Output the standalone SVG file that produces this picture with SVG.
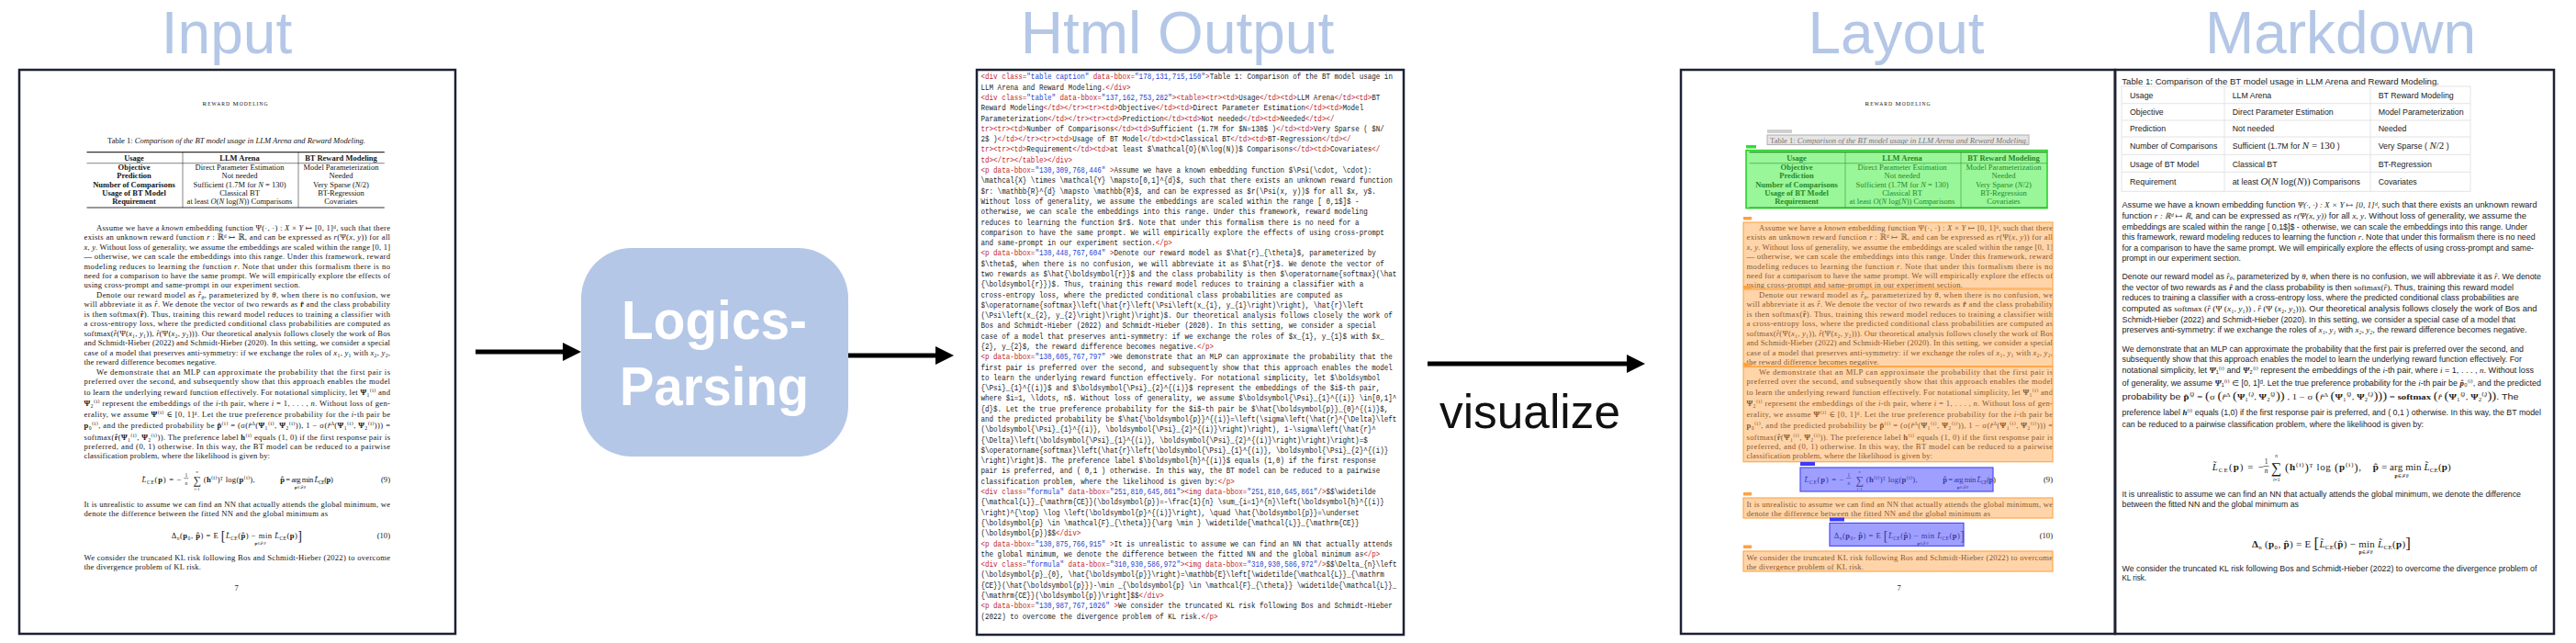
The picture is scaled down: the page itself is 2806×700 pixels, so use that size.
<svg xmlns="http://www.w3.org/2000/svg" xmlns:xlink="http://www.w3.org/1999/xlink" width="2806" height="700" viewBox="0 0 2806 700">
<style>
.title{font-family:"Liberation Sans",Arial,sans-serif;font-size:64px;fill:#b4c7e7;text-anchor:middle}
.page{fill:#fff;stroke:#1c2133;stroke-width:2.5}
.pp{font-family:"Liberation Serif","DejaVu Serif",serif;font-size:8.6px;fill:#151515}
.tb{font-family:"Liberation Serif","DejaVu Serif",serif;font-size:8.5px;fill:#151515;text-anchor:middle}
.sc{font-family:"Liberation Serif","DejaVu Serif",serif;font-size:7px;fill:#151515;text-anchor:middle}
.b{font-weight:bold}
.i{font-style:italic}
.sm{font-size:5.5px}
.code{font-family:"Liberation Mono","DejaVu Sans Mono",monospace;font-size:9px;fill:#1a1a1a}
.t{fill:#c0282d}
.v{fill:#1f3fd1}
.md{font-family:"Liberation Sans",Arial,"DejaVu Sans",sans-serif;font-size:8.8px;fill:#222}
.m{font-family:"Liberation Serif","DejaVu Serif",serif;font-style:italic}
.mf{font-family:"Liberation Serif","DejaVu Serif",serif;font-size:11px;fill:#222}
.lp{font-family:"Liberation Sans",Arial,sans-serif;font-weight:bold;font-size:59px;fill:#fff;text-anchor:middle}
.arrow{stroke:#000;stroke-width:5;fill:none}
.ovo{fill:#ffa040;fill-opacity:0.45;stroke:#ffa94d;stroke-width:1.2}
.ovg{fill:#33ee33;fill-opacity:0.5;stroke:#22cc22;stroke-width:1.5}
.ovb{fill:#5050ff;fill-opacity:0.55;stroke:#4d4dff;stroke-width:1.2}
.lo{fill:#ffa040}
.lb{fill:#3a3aff}
.grid{stroke:#e4e4e4;stroke-width:1;fill:none}
</style>
<defs>
<marker id="ah" markerUnits="userSpaceOnUse" markerWidth="20" markerHeight="20" refX="0" refY="10" orient="auto">
<path d="M0,0 L20,10 L0,20 z" fill="#000"/>
</marker>
<g id="paper">
<text class="sc" x="256" y="114.5" textLength="71">R<tspan font-size="5.6">EWARD </tspan>M<tspan font-size="5.6">ODELING</tspan></text>
<text class="pp" x="117" y="155.5" textLength="281">Table 1: <tspan class="i">Comparison of the BT model usage in LLM Arena and Reward Modeling.</tspan></text>
<path d="M94.5 165.6H418.8M94.5 226H418.8" stroke="#333" stroke-width="1.1"/>
<path d="M94.5 177.7H418.8M199 165.6V226M325 165.6V226" stroke="#333" stroke-width="0.6"/>
<g class="tb">
<text x="146" y="175.3" class="b">Usage</text><text x="261" y="175.3" class="b">LLM Arena</text><text x="371.5" y="175.3" class="b">BT Reward Modeling</text>
<text x="146" y="185.4" class="b">Objective</text><text x="261" y="185.4">Direct Parameter Estimation</text><text x="371.5" y="185.4">Model Parameterization</text>
<text x="146" y="194.3" class="b">Prediction</text><text x="261" y="194.3">Not needed</text><text x="371.5" y="194.3">Needed</text>
<text x="146" y="203.6" class="b">Number of Comparisons</text><text x="261" y="203.6">Sufficient (1.7M for <tspan class="i">N</tspan> = 130)</text><text x="371.5" y="203.6">Very Sparse (<tspan class="i">N</tspan>/2)</text>
<text x="146" y="212.8" class="b">Usage of BT Model</text><text x="261" y="212.8">Classical BT</text><text x="371.5" y="212.8">BT-Regression</text>
<text x="146" y="222" class="b">Requirement</text><text x="261" y="222">at least <tspan class="i">O</tspan>(<tspan class="i">N</tspan> log(<tspan class="i">N</tspan>)) Comparisons</text><text x="371.5" y="222">Covariates</text>
</g>
<g class="pp">
<text x="105" y="250.7" textLength="320">Assume we have a <tspan class="i">known</tspan> embedding function Ψ(·, ·) : <tspan class="i">X</tspan> × <tspan class="i">Y</tspan> ↦ [0, 1]ᵈ, such that there</text>
<text x="91.5" y="261.1" textLength="333.5">exists an unknown reward function <tspan class="i">r</tspan> : ℝᵈ ↦ ℝ, and can be expressed as <tspan class="i">r</tspan>(Ψ(<tspan class="i">x</tspan>, <tspan class="i">y</tspan>)) for all</text>
<text x="91.5" y="271.6" textLength="333.5"><tspan class="i">x</tspan>, <tspan class="i">y</tspan>. Without loss of generality, we assume the embeddings are scaled within the range [0, 1]</text>
<text x="91.5" y="282" textLength="333.5">— otherwise, we can scale the embeddings into this range. Under this framework, reward</text>
<text x="91.5" y="292.5" textLength="333.5">modeling reduces to learning the function <tspan class="i">r</tspan>. Note that under this formalism there is no</text>
<text x="91.5" y="302.9" textLength="333.5">need for a comparison to have the same prompt. We will empirically explore the effects of</text>
<text x="91.5" y="313.4" textLength="235.5">using cross-prompt and same-prompt in our experiment section.</text>
<text x="105" y="324.2" textLength="320">Denote our reward model as <tspan class="i">r̂</tspan><tspan class="sm i" dy="1.5">θ</tspan><tspan dy="-1.5">, parameterized by </tspan><tspan class="i">θ</tspan>, when there is no confusion, we</text>
<text x="91.5" y="334.3" textLength="333.5">will abbreviate it as <tspan class="i">r̂</tspan>. We denote the vector of two rewards as <tspan class="b">r̂</tspan> and the class probability</text>
<text x="91.5" y="344.7" textLength="333.5">is then softmax(<tspan class="b">r̂</tspan>). Thus, training this reward model reduces to training a classifier with</text>
<text x="91.5" y="355.1" textLength="333.5">a cross-entropy loss, where the predicted conditional class probabilities are computed as</text>
<text x="91.5" y="365.6" textLength="333.5">softmax(<tspan class="i">r̂</tspan>(Ψ(<tspan class="i">x</tspan>₁, <tspan class="i">y</tspan>₁)), <tspan class="i">r̂</tspan>(Ψ(<tspan class="i">x</tspan>₂, <tspan class="i">y</tspan>₂))). Our theoretical analysis follows closely the work of Bos</text>
<text x="91.5" y="376" textLength="333.5">and Schmidt-Hieber (2022) and Schmidt-Hieber (2020). In this setting, we consider a special</text>
<text x="91.5" y="386.5" textLength="333.5">case of a model that preserves anti-symmetry: if we exchange the roles of <tspan class="i">x</tspan>₁, <tspan class="i">y</tspan>₁ with <tspan class="i">x</tspan>₂, <tspan class="i">y</tspan>₂,</text>
<text x="91.5" y="396.9" textLength="144.5">the reward difference becomes negative.</text>
<text x="105" y="407.7" textLength="320">We demonstrate that an MLP can approximate the probability that the first pair is</text>
<text x="91.5" y="418.2" textLength="333.5">preferred over the second, and subsequently show that this approach enables the model</text>
<text x="91.5" y="429.5" textLength="333.5">to learn the underlying reward function effectively. For notational simplicity, let <tspan class="b">Ψ</tspan>₁⁽ⁱ⁾ and</text>
<text x="91.5" y="441.5" textLength="333.5"><tspan class="b">Ψ</tspan>₂⁽ⁱ⁾ represent the embeddings of the <tspan class="i">i</tspan>-th pair, where <tspan class="i">i</tspan> = 1, . . . , <tspan class="i">n</tspan>. Without loss of gen-</text>
<text x="91.5" y="454.4" textLength="333.5">erality, we assume <tspan class="b">Ψ</tspan>⁽ⁱ⁾ ∈ [0, 1]ᵈ. Let the true preference probability for the <tspan class="i">i</tspan>-th pair be</text>
<text x="91.5" y="466.4" textLength="333.5"><tspan class="b">p</tspan>₀⁽ⁱ⁾, and the predicted probability be <tspan class="b">p̂</tspan>⁽ⁱ⁾ = (σ(<tspan class="i">r̂</tspan><tspan class="sm" dy="-3">Δ</tspan><tspan dy="3">(</tspan><tspan class="b">Ψ</tspan>₁⁽ⁱ⁾, <tspan class="b">Ψ</tspan>₂⁽ⁱ⁾)), 1 − σ(<tspan class="i">r̂</tspan><tspan class="sm" dy="-3">Δ</tspan><tspan dy="3">(</tspan><tspan class="b">Ψ</tspan>₁⁽ⁱ⁾, <tspan class="b">Ψ</tspan>₂⁽ⁱ⁾))) =</text>
<text x="91.5" y="478.5" textLength="333.5">softmax(<tspan class="b">r̂</tspan>(<tspan class="b">Ψ</tspan>₁⁽ⁱ⁾, <tspan class="b">Ψ</tspan>₂⁽ⁱ⁾)). The preference label <tspan class="b">h</tspan>⁽ⁱ⁾ equals (1, 0) if the first response pair is</text>
<text x="91.5" y="488.9" textLength="333.5">preferred, and (0, 1) otherwise. In this way, the BT model can be reduced to a pairwise</text>
<text x="91.5" y="499.4" textLength="202.5">classification problem, where the likelihood is given by:</text>
<text x="154.5" y="525" textLength="43"><tspan class="i">L̃</tspan><tspan class="sm" dy="1.5">CE</tspan><tspan dy="-1.5">(</tspan><tspan class="b">p</tspan>) = −</text>
<text x="202.8" y="518.5" class="sm" text-anchor="middle">1</text>
<path d="M200.3 520.5H205.3" stroke="#222" stroke-width="0.5"/>
<text x="202.8" y="528" class="sm i" text-anchor="middle">n</text>
<text x="214.5" y="526.5" font-size="12" text-anchor="middle">∑</text>
<text x="214.5" y="514.5" font-size="4.5" text-anchor="middle" class="i">n</text>
<text x="214.5" y="533.5" font-size="4.5" text-anchor="middle"><tspan class="i">i</tspan>=1</text>
<text x="221.8" y="525" textLength="55.8">(<tspan class="b">h</tspan>⁽ⁱ⁾)ᵀ log(<tspan class="b">p</tspan>⁽ⁱ⁾),</text>
<text x="304.8" y="525" textLength="57.6"><tspan class="b">p̂</tspan> = arg min <tspan class="i">L̃</tspan><tspan class="sm" dy="1.5">CE</tspan><tspan dy="-1.5">(</tspan><tspan class="b">p</tspan>)</text>
<text x="327" y="531.5" font-size="4.5" text-anchor="middle"><tspan class="b">p</tspan>∈ℱ<tspan class="i">θ</tspan></text>
<text x="425" y="525" text-anchor="end">(9)</text>
<text x="91.5" y="551.7" textLength="333.5">It is unrealistic to assume we can find an NN that actually attends the global minimum, we</text>
<text x="91.5" y="562.1" textLength="265.5">denote the difference between the fitted NN and the global minimum as</text>
<text x="186.7" y="586" textLength="142.3">Δ<tspan class="sm i" dy="1.5">n</tspan><tspan dy="-1.5">(</tspan><tspan class="b">p</tspan>₀, <tspan class="b">p̂</tspan>) = E <tspan font-size="14" dy="1.5">[</tspan><tspan dy="-1.5" class="i">L̃</tspan><tspan class="sm" dy="1.5">CE</tspan><tspan dy="-1.5">(</tspan><tspan class="b">p̂</tspan>) − min <tspan class="i">L̃</tspan><tspan class="sm" dy="1.5">CE</tspan><tspan dy="-1.5">(</tspan><tspan class="b">p</tspan>)<tspan font-size="14" dy="1.5">]</tspan></text>
<text x="283.5" y="592.5" font-size="4.5" text-anchor="middle"><tspan class="b">p</tspan>∈ℱ<tspan class="i">θ</tspan></text>
<text x="425" y="586" text-anchor="end">(10)</text>
<text x="91.5" y="609.7" textLength="333.5">We consider the truncated KL risk following Bos and Schmidt-Hieber (2022) to overcome</text>
<text x="91.5" y="620.3" textLength="127.5">the divergence problem of KL risk.</text>
<text x="257.6" y="643" text-anchor="middle">7</text>
</g>
</g>
</defs>

<rect width="2806" height="700" fill="#fff"/>

<g id="titles">
<text class="title" x="247" y="58">Input</text>
<text class="title" x="1282.5" y="58">Html Output</text>
<text class="title" x="2065.5" y="58">Layout</text>
<text class="title" x="2549.5" y="58">Markdown</text>
</g>

<g id="input">
<rect class="page" x="21" y="76" width="475" height="614"/>
<use xlink:href="#paper" href="#paper"/>
</g>

<g id="logics-parsing">
<rect x="633" y="270" width="291" height="227" rx="55" ry="55" fill="#b4c7e7"/>
<text class="lp" x="778" y="369" textLength="202" lengthAdjust="spacingAndGlyphs">Logics-</text>
<text class="lp" x="778" y="441" textLength="206" lengthAdjust="spacingAndGlyphs">Parsing</text>
</g>

<g id="html-output">
<rect class="page" x="1064" y="76" width="465" height="615"/>
<g class="code" transform="translate(1068.5 0) scale(0.84 1)">
<text x="0" y="86.5"><tspan class="t">&lt;div class=</tspan><tspan class="v">"table caption"</tspan><tspan class="t"> data-bbox=</tspan><tspan class="v">"178,131,715,150"</tspan><tspan class="t">&gt;</tspan>Table 1: Comparison of the BT model usage in</text>
<text x="0" y="97.8">LLM Arena and Reward Modeling.<tspan class="t">&lt;/div&gt;</tspan></text>
<text x="0" y="109.1"><tspan class="t">&lt;div class=</tspan><tspan class="v">"table"</tspan><tspan class="t"> data-bbox=</tspan><tspan class="v">"137,162,753,282"</tspan><tspan class="t">&gt;&lt;table&gt;&lt;tr&gt;&lt;td&gt;</tspan>Usage<tspan class="t">&lt;/td&gt;&lt;td&gt;</tspan>LLM Arena<tspan class="t">&lt;/td&gt;&lt;td&gt;</tspan>BT</text>
<text x="0" y="120.4">Reward Modeling<tspan class="t">&lt;/td&gt;&lt;/tr&gt;&lt;tr&gt;&lt;td&gt;</tspan>Objective<tspan class="t">&lt;/td&gt;&lt;td&gt;</tspan>Direct Parameter Estimation<tspan class="t">&lt;/td&gt;&lt;td&gt;</tspan>Model</text>
<text x="0" y="131.7">Parameterization<tspan class="t">&lt;/td&gt;&lt;/tr&gt;&lt;tr&gt;&lt;td&gt;</tspan>Prediction<tspan class="t">&lt;/td&gt;&lt;td&gt;</tspan>Not needed<tspan class="t">&lt;/td&gt;&lt;td&gt;</tspan>Needed<tspan class="t">&lt;/td&gt;&lt;/</tspan></text>
<text x="0" y="142.9"><tspan class="t">tr&gt;&lt;tr&gt;&lt;td&gt;</tspan>Number of Comparisons<tspan class="t">&lt;/td&gt;&lt;td&gt;</tspan>Sufficient (1.7M for $N=130$ )<tspan class="t">&lt;/td&gt;&lt;td&gt;</tspan>Very Sparse ( $N/</text>
<text x="0" y="154.2">2$ )<tspan class="t">&lt;/td&gt;&lt;/tr&gt;&lt;tr&gt;&lt;td&gt;</tspan>Usage of BT Model<tspan class="t">&lt;/td&gt;&lt;td&gt;</tspan>Classical BT<tspan class="t">&lt;/td&gt;&lt;td&gt;</tspan>BT-Regression<tspan class="t">&lt;/td&gt;&lt;/</tspan></text>
<text x="0" y="165.5"><tspan class="t">tr&gt;&lt;tr&gt;&lt;td&gt;</tspan>Requirement<tspan class="t">&lt;/td&gt;&lt;td&gt;</tspan>at least $\mathcal{O}(N\log(N))$ Comparisons<tspan class="t">&lt;/td&gt;&lt;td&gt;</tspan>Covariates<tspan class="t">&lt;/</tspan></text>
<text x="0" y="176.8"><tspan class="t">td&gt;&lt;/tr&gt;&lt;/table&gt;&lt;/div&gt;</tspan></text>
<text x="0" y="188.1"><tspan class="t">&lt;p data-bbox=</tspan><tspan class="v">"130,309,768,446"</tspan><tspan class="t"> &gt;</tspan>Assume we have a known embedding function $\Psi(\cdot, \cdot):</text>
<text x="0" y="199.4">\mathcal{X} \times \mathcal{Y} \mapsto[0,1]^{d}$, such that there exists an unknown reward function</text>
<text x="0" y="210.7">$r: \mathbb{R}^{d} \mapsto \mathbb{R}$, and can be expressed as $r(\Psi(x, y))$ for all $x, y$.</text>
<text x="0" y="222">Without loss of generality, we assume the embeddings are scaled within the range [ 0,1$]$ -</text>
<text x="0" y="233.3">otherwise, we can scale the embeddings into this range. Under this framework, reward modeling</text>
<text x="0" y="244.6">reduces to learning the function $r$. Note that under this formalism there is no need for a</text>
<text x="0" y="255.9">comparison to have the same prompt. We will empirically explore the effects of using cross-prompt</text>
<text x="0" y="267.1">and same-prompt in our experiment section.<tspan class="t">&lt;/p&gt;</tspan></text>
<text x="0" y="278.4"><tspan class="t">&lt;p data-bbox=</tspan><tspan class="v">"130,448,767,604"</tspan><tspan class="t"> &gt;</tspan>Denote our reward model as $\hat{r}_{\theta}$, parameterized by</text>
<text x="0" y="289.7">$\theta$, when there is no confusion, we will abbreviate it as $\hat{r}$. We denote the vector of</text>
<text x="0" y="301">two rewards as $\hat{\boldsymbol{r}}$ and the class probability is then $\operatorname{softmax}(\hat</text>
<text x="0" y="312.3">{\boldsymbol{r}})$. Thus, training this reward model reduces to training a classifier with a</text>
<text x="0" y="323.6">cross-entropy loss, where the predicted conditional class probabilities are computed as</text>
<text x="0" y="334.9">$\operatorname{softmax}\left(\hat{r}\left(\Psi\left(x_{1}, y_{1}\right)\right), \hat{r}\left</text>
<text x="0" y="346.2">(\Psi\left(x_{2}, y_{2}\right)\right)\right)$. Our theoretical analysis follows closely the work of</text>
<text x="0" y="357.5">Bos and Schmidt-Hieber (2022) and Schmidt-Hieber (2020). In this setting, we consider a special</text>
<text x="0" y="368.8">case of a model that preserves anti-symmetry: if we exchange the roles of $x_{1}, y_{1}$ with $x_</text>
<text x="0" y="380">{2}, y_{2}$, the reward difference becomes negative.<tspan class="t">&lt;/p&gt;</tspan></text>
<text x="0" y="391.3"><tspan class="t">&lt;p data-bbox=</tspan><tspan class="v">"130,605,767,797"</tspan><tspan class="t"> &gt;</tspan>We demonstrate that an MLP can approximate the probability that the</text>
<text x="0" y="402.6">first pair is preferred over the second, and subsequently show that this approach enables the model</text>
<text x="0" y="413.9">to learn the underlying reward function effectively. For notational simplicity, let $\boldsymbol</text>
<text x="0" y="425.2">{\Psi}_{1}^{(i)}$ and $\boldsymbol{\Psi}_{2}^{(i)}$ represent the embeddings of the $i$-th pair,</text>
<text x="0" y="436.5">where $i=1, \ldots, n$. Without loss of generality, we assume $\boldsymbol{\Psi}_{1}^{(i)} \in[0,1]^</text>
<text x="0" y="447.8">{d}$. Let the true preference probability for the $i$-th pair be $\hat{\boldsymbol{p}}_{0}^{(i)}$,</text>
<text x="0" y="459.1">and the predicted probability be $\hat{\boldsymbol{p}}^{(i)}=\left(\sigma\left(\hat{r}^{\Delta}\left</text>
<text x="0" y="470.4">(\boldsymbol{\Psi}_{1}^{(i)}, \boldsymbol{\Psi}_{2}^{(i)}\right)\right), 1-\sigma\left(\hat{r}^</text>
<text x="0" y="481.7">{\Delta}\left(\boldsymbol{\Psi}_{1}^{(i)}, \boldsymbol{\Psi}_{2}^{(i)}\right)\right)\right)=$</text>
<text x="0" y="493">$\operatorname{softmax}\left(\hat{r}\left(\boldsymbol{\Psi}_{1}^{(i)}, \boldsymbol{\Psi}_{2}^{(i)}</text>
<text x="0" y="504.2">\right)\right)$. The preference label $\boldsymbol{h}^{(i)}$ equals (1,0) if the first response</text>
<text x="0" y="515.5">pair is preferred, and ( 0,1 ) otherwise. In this way, the BT model can be reduced to a pairwise</text>
<text x="0" y="526.8">classification problem, where the likelihood is given by:<tspan class="t">&lt;/p&gt;</tspan></text>
<text x="0" y="538.1"><tspan class="t">&lt;div class=</tspan><tspan class="v">"formula"</tspan><tspan class="t"> data-bbox=</tspan><tspan class="v">"251,810,645,861"</tspan><tspan class="t">&gt;&lt;img data-bbox=</tspan><tspan class="v">"251,810,645,861"</tspan><tspan class="t">/&gt;</tspan>$$\widetilde</text>
<text x="0" y="549.4">{\mathcal{L}}_{\mathrm{CE}}(\boldsymbol{p})=-\frac{1}{n} \sum_{i=1}^{n}\left(\boldsymbol{h}^{(i)}</text>
<text x="0" y="560.7">\right)^{\top} \log \left(\boldsymbol{p}^{(i)}\right), \quad \hat{\boldsymbol{p}}=\underset</text>
<text x="0" y="572">{\boldsymbol{p} \in \mathcal{F}_{\theta}}{\arg \min } \widetilde{\mathcal{L}}_{\mathrm{CE}}</text>
<text x="0" y="583.3">(\boldsymbol{p})$$<tspan class="t">&lt;/div&gt;</tspan></text>
<text x="0" y="594.6"><tspan class="t">&lt;p data-bbox=</tspan><tspan class="v">"130,875,766,915"</tspan><tspan class="t"> &gt;</tspan>It is unrealistic to assume we can find an NN that actually attends</text>
<text x="0" y="605.9">the global minimum, we denote the difference between the fitted NN and the global minimum as<tspan class="t">&lt;/p&gt;</tspan></text>
<text x="0" y="617.1"><tspan class="t">&lt;div class=</tspan><tspan class="v">"formula"</tspan><tspan class="t"> data-bbox=</tspan><tspan class="v">"310,930,586,972"</tspan><tspan class="t">&gt;&lt;img data-bbox=</tspan><tspan class="v">"310,930,586,972"</tspan><tspan class="t">/&gt;</tspan>$$\Delta_{n}\left</text>
<text x="0" y="628.4">(\boldsymbol{p}_{0}, \hat{\boldsymbol{p}}\right)=\mathbb{E}\left[\widetilde{\mathcal{L}}_{\mathrm</text>
<text x="0" y="639.7">{CE}}(\hat{\boldsymbol{p}})-\min _{\boldsymbol{p} \in \mathcal{F}_{\theta}} \widetilde{\mathcal{L}}_</text>
<text x="0" y="651">{\mathrm{CE}}(\boldsymbol{p})\right]$$<tspan class="t">&lt;/div&gt;</tspan></text>
<text x="0" y="662.3"><tspan class="t">&lt;p data-bbox=</tspan><tspan class="v">"130,987,767,1026"</tspan><tspan class="t"> &gt;</tspan>We consider the truncated KL risk following Bos and Schmidt-Hieber</text>
<text x="0" y="673.6">(2022) to overcome the divergence problem of KL risk.<tspan class="t">&lt;/p&gt;</tspan></text>
</g>
</g>

<g id="layout">
<rect class="page" x="1831" y="76" width="473" height="614"/>
<use xlink:href="#paper" href="#paper" x="1811"/>
<rect x="1925" y="141" width="27" height="4" fill="#cfcfcf"/>
<rect x="1925" y="147" width="285" height="10.5" fill="#cccccc" fill-opacity="0.5" stroke="#b0b0b0" stroke-width="1"/>
<rect x="1902" y="158" width="11" height="3.5" fill="#33dd33"/>
<rect class="ovg" x="1902" y="163.6" width="328" height="63"/>
<rect class="lo" x="1899" y="236" width="9" height="3.5"/>
<rect class="ovo" x="1899" y="242" width="337" height="72"/>
<rect class="ovo" x="1899" y="315" width="337" height="83.6"/>
<rect class="lo" x="1899" y="311" width="9" height="3.5"/>
<rect class="ovo" x="1899" y="399.5" width="337" height="103.2"/>
<rect class="lo" x="1899" y="395" width="9" height="3.5"/>
<rect class="lb" x="1961" y="503" width="16" height="4"/>
<rect class="ovb" x="1961" y="509" width="210" height="26"/>
<rect class="lo" x="1899" y="536" width="9" height="3.5"/>
<rect class="ovo" x="1899" y="542" width="337" height="22"/>
<rect class="lb" x="1993" y="563.5" width="16" height="4"/>
<rect class="ovb" x="1993" y="569.4" width="146" height="25"/>
<rect class="lo" x="1899" y="593.5" width="9" height="3.5"/>
<rect class="ovo" x="1899" y="600" width="337" height="22"/>
</g>

<g id="markdown">
<rect class="page" x="2304" y="76" width="478" height="614"/>
<text class="md" x="2311.3" y="92.3" textLength="345.7" lengthAdjust="spacingAndGlyphs">Table 1: Comparison of the BT model usage in LLM Arena and Reward Modeling.</text>
<rect class="grid" x="2311" y="94" width="380" height="114.3"/>
<path class="grid" d="M2311 112.7H2691M2311 131H2691M2311 149H2691M2311 168.3H2691M2311 187.3H2691M2423 94V208.3M2582 94V208.3"/>
<g class="md">
<text x="2320" y="107">Usage</text><text x="2431.7" y="107">LLM Arena</text><text x="2590.7" y="107">BT Reward Modeling</text>
<text x="2320" y="125">Objective</text><text x="2431.7" y="125">Direct Parameter Estimation</text><text x="2590.7" y="125">Model Parameterization</text>
<text x="2320" y="143.3">Prediction</text><text x="2431.7" y="143.3">Not needed</text><text x="2590.7" y="143.3">Needed</text>
<text x="2320" y="162">Number of Comparisons</text><text x="2431.7" y="162">Sufficient (1.7M for <tspan class="m" font-size="11">N</tspan><tspan font-family="Liberation Serif" font-size="11"> = 130</tspan> )</text><text x="2590.7" y="162">Very Sparse ( <tspan class="m" font-size="11">N</tspan><tspan font-family="Liberation Serif" font-size="11">/2</tspan> )</text>
<text x="2320" y="181.7">Usage of BT Model</text><text x="2431.7" y="181.7">Classical BT</text><text x="2590.7" y="181.7">BT-Regression</text>
<text x="2320" y="201">Requirement</text><text x="2431.7" y="201">at least <tspan class="m" font-size="11">O</tspan><tspan font-family="Liberation Serif" font-size="11">(<tspan font-style="italic">N</tspan> log(<tspan font-style="italic">N</tspan>))</tspan> Comparisons</text><text x="2590.7" y="201">Covariates</text>

<text x="2311.5" y="226" textLength="452" lengthAdjust="spacingAndGlyphs">Assume we have a known embedding function <tspan class="m">Ψ(·, ·) : X × Y ↦ [0, 1]ᵈ</tspan>, such that there exists an unknown reward</text>
<text x="2311.5" y="237.7" textLength="440.5" lengthAdjust="spacingAndGlyphs">function <tspan class="m">r : ℝᵈ ↦ ℝ</tspan>, and can be expressed as <tspan class="m">r(Ψ(x, y))</tspan> for all <tspan class="m">x, y</tspan>. Without loss of generality, we assume the</text>
<text x="2311.5" y="249.8" textLength="441.5" lengthAdjust="spacingAndGlyphs">embeddings are scaled within the range [ 0,1$]$ - otherwise, we can scale the embeddings into this range. Under</text>
<text x="2311.5" y="261" textLength="450.2" lengthAdjust="spacingAndGlyphs">this framework, reward modeling reduces to learning the function <tspan class="m">r</tspan>. Note that under this formalism there is no need</text>
<text x="2311.5" y="272.7" textLength="448.5" lengthAdjust="spacingAndGlyphs">for a comparison to have the same prompt. We will empirically explore the effects of using cross-prompt and same-</text>
<text x="2311.5" y="284" textLength="129.5" lengthAdjust="spacingAndGlyphs">prompt in our experiment section.</text>

<text x="2311.5" y="303.6" textLength="456.5" lengthAdjust="spacingAndGlyphs">Denote our reward model as <tspan class="m">r̂</tspan><tspan class="m" font-size="6" dy="1.5">θ</tspan><tspan dy="-1.5">, parameterized by </tspan><tspan class="m">θ</tspan>, when there is no confusion, we will abbreviate it as <tspan class="m">r̂</tspan>. We denote</text>
<text x="2311.5" y="315.7" textLength="426.5" lengthAdjust="spacingAndGlyphs">the vector of two rewards as <tspan class="m" font-weight="bold">r̂</tspan> and the class probability is then <tspan font-family="Liberation Serif">softmax(<tspan font-style="italic">r̂</tspan>)</tspan>. Thus, training this reward model</text>
<text x="2311.5" y="327.3" textLength="432.5" lengthAdjust="spacingAndGlyphs">reduces to training a classifier with a cross-entropy loss, where the predicted conditional class probabilities are</text>
<text x="2311.5" y="338.6" textLength="452" lengthAdjust="spacingAndGlyphs">computed as <tspan font-family="Liberation Serif">softmax (<tspan font-style="italic">r̂</tspan> (Ψ (<tspan font-style="italic">x</tspan>₁, <tspan font-style="italic">y</tspan>₁)) , <tspan font-style="italic">r̂</tspan> (Ψ (<tspan font-style="italic">x</tspan>₂, <tspan font-style="italic">y</tspan>₂)))</tspan>. Our theoretical analysis follows closely the work of Bos and</text>
<text x="2311.5" y="351" textLength="428.5" lengthAdjust="spacingAndGlyphs">Schmidt-Hieber (2022) and Schmidt-Hieber (2020). In this setting, we consider a special case of a model that</text>
<text x="2311.5" y="362.3" textLength="441.1" lengthAdjust="spacingAndGlyphs">preserves anti-symmetry: if we exchange the roles of <tspan class="m">x₁, y₁</tspan> with <tspan class="m">x₂, y₂</tspan>, the reward difference becomes negative.</text>

<text x="2311.5" y="382.8" textLength="437.5" lengthAdjust="spacingAndGlyphs">We demonstrate that an MLP can approximate the probability that the first pair is preferred over the second, and</text>
<text x="2311.5" y="393.6" textLength="435.5" lengthAdjust="spacingAndGlyphs">subsequently show that this approach enables the model to learn the underlying reward function effectively. For</text>
<text x="2311.5" y="405.7" textLength="448.5" lengthAdjust="spacingAndGlyphs">notational simplicity, let <tspan class="m" font-weight="bold">Ψ</tspan>₁⁽ⁱ⁾ and <tspan class="m" font-weight="bold">Ψ</tspan>₂⁽ⁱ⁾ represent the embeddings of the <tspan class="m">i</tspan>-th pair, where <tspan class="m">i</tspan> = 1, . . . , <tspan class="m">n</tspan>. Without loss</text>
<text x="2311.5" y="420" textLength="456.5" lengthAdjust="spacingAndGlyphs">of generality, we assume <tspan class="m" font-weight="bold">Ψ</tspan>₁⁽ⁱ⁾ ∈ [0, 1]ᵈ. Let the true preference probability for the <tspan class="m">i</tspan>-th pair be <tspan class="m" font-weight="bold">p̂</tspan>₀⁽ⁱ⁾, and the predicted</text>
<text x="2311.5" y="435.4" textLength="432.1" lengthAdjust="spacingAndGlyphs">probability be <tspan font-family="Liberation Serif"><tspan font-weight="bold">p̂</tspan>⁽ⁱ⁾ = <tspan font-size="12">(</tspan>σ <tspan font-size="12">(</tspan><tspan font-style="italic">r̂</tspan><tspan font-size="6" dy="-3">Δ</tspan><tspan dy="3"> </tspan><tspan font-size="12">(</tspan><tspan font-weight="bold">Ψ</tspan>₁⁽ⁱ⁾, <tspan font-weight="bold">Ψ</tspan>₂⁽ⁱ⁾<tspan font-size="12">))</tspan> , 1 − σ <tspan font-size="12">(</tspan><tspan font-style="italic">r̂</tspan><tspan font-size="6" dy="-3">Δ</tspan><tspan dy="3"> </tspan><tspan font-size="12">(</tspan><tspan font-weight="bold">Ψ</tspan>₁⁽ⁱ⁾, <tspan font-weight="bold">Ψ</tspan>₂⁽ⁱ⁾<tspan font-size="12">)))</tspan> = <tspan font-weight="bold">softmax</tspan> <tspan font-size="12">(</tspan><tspan font-style="italic">r̂</tspan> <tspan font-size="12">(</tspan><tspan font-weight="bold">Ψ</tspan>₁⁽ⁱ⁾, <tspan font-weight="bold">Ψ</tspan>₂⁽ⁱ⁾<tspan font-size="12">))</tspan></tspan>. The</text>
<text x="2311.5" y="451.9" textLength="456.5" lengthAdjust="spacingAndGlyphs">preference label <tspan class="m" font-weight="bold">h</tspan>⁽ⁱ⁾ equals (1,0) if the first response pair is preferred, and ( 0,1 ) otherwise. In this way, the BT model</text>
<text x="2311.5" y="464.7" textLength="328.5" lengthAdjust="spacingAndGlyphs">can be reduced to a pairwise classification problem, where the likelihood is given by:</text>

<text x="2311.5" y="541" textLength="434.5" lengthAdjust="spacingAndGlyphs">It is unrealistic to assume we can find an NN that actually attends the global minimum, we denote the difference</text>
<text x="2311.5" y="551.5" textLength="192.5" lengthAdjust="spacingAndGlyphs">between the fitted NN and the global minimum as</text>
<text x="2311.5" y="621.8" textLength="452" lengthAdjust="spacingAndGlyphs">We consider the truncated KL risk following Bos and Schmidt-Hieber (2022) to overcome the divergence problem of</text>
<text x="2311.5" y="632.3" textLength="26.5" lengthAdjust="spacingAndGlyphs">KL risk.</text>
</g>
<g class="mf">
<text x="2409.7" y="512" textLength="55.9"><tspan font-style="italic">L̃</tspan><tspan font-size="7" dy="2">CE</tspan><tspan dy="-2">(</tspan><tspan font-weight="bold">p</tspan>) = −</text>
<text x="2468.5" y="505" font-size="7.5" text-anchor="middle">1</text>
<path d="M2465.5 507.5H2471.5" stroke="#222" stroke-width="0.6"/>
<text x="2468.5" y="515" font-size="7.5" text-anchor="middle" font-style="italic">n</text>
<text x="2479.7" y="515" font-size="16" text-anchor="middle">∑</text>
<text x="2479.7" y="498" font-size="5.5" text-anchor="middle" font-style="italic">n</text>
<text x="2479.7" y="523.5" font-size="5.5" text-anchor="middle"><tspan font-style="italic">i</tspan>=1</text>
<text x="2489" y="512" textLength="83"><tspan font-size="13" dy="0.5">(</tspan><tspan font-weight="bold" dy="-0.5">h</tspan>⁽ⁱ⁾<tspan font-size="13" dy="0.5">)</tspan><tspan dy="-0.5">ᵀ log </tspan><tspan font-size="13" dy="0.5">(</tspan><tspan font-weight="bold" dy="-0.5">p</tspan>⁽ⁱ⁾<tspan font-size="13" dy="0.5">)</tspan><tspan dy="-0.5">,</tspan></text>
<text x="2584.8" y="512" textLength="84.8"><tspan font-weight="bold">p̂</tspan> = arg min <tspan font-style="italic">L̃</tspan><tspan font-size="7" dy="2">CE</tspan><tspan dy="-2">(</tspan><tspan font-weight="bold">p</tspan>)</text>
<text x="2616" y="519.5" font-size="5.5" text-anchor="middle"><tspan font-weight="bold">p</tspan>∈ℱ<tspan font-style="italic">θ</tspan></text>
<text x="2453" y="595.5" textLength="173"><tspan font-weight="bold">Δ</tspan><tspan font-size="7" dy="2">n</tspan><tspan dy="-2"> (</tspan><tspan font-weight="bold">p</tspan>₀, <tspan font-weight="bold">p̂</tspan>) = E <tspan font-size="17" dy="1.5">[</tspan><tspan font-style="italic" dy="-1.5">L̃</tspan><tspan font-size="7" dy="2">CE</tspan><tspan dy="-2">(</tspan><tspan font-weight="bold">p̂</tspan>) − min <tspan font-style="italic">L̃</tspan><tspan font-size="7" dy="2">CE</tspan><tspan dy="-2">(</tspan><tspan font-weight="bold">p</tspan>)<tspan font-size="17" dy="1.5">]</tspan></text>
<text x="2577" y="602.5" font-size="5.5" text-anchor="middle"><tspan font-weight="bold">p</tspan>∈ℱ<tspan font-style="italic">θ</tspan></text>
</g>
<path d="M2304 76V690" stroke="#1c2133" stroke-width="2.5"/>
</g>

<g id="connectors">
<line class="arrow" x1="518" y1="383" x2="613" y2="383" marker-end="url(#ah)"/>
<line class="arrow" x1="924" y1="387" x2="1019" y2="387" marker-end="url(#ah)"/>
<line class="arrow" x1="1555" y1="396" x2="1772" y2="396" marker-end="url(#ah)"/>
<text x="1568" y="466" font-family="Liberation Sans, Arial, sans-serif" font-size="52" fill="#111" textLength="197" lengthAdjust="spacingAndGlyphs">visualize</text>
</g>
</svg>
